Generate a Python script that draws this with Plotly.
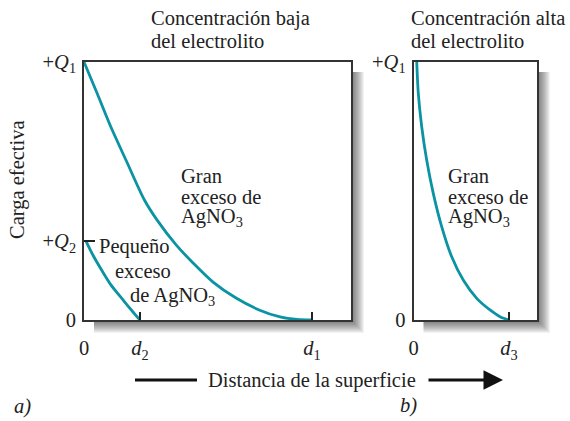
import plotly.graph_objects as go

W, H = 570, 421

# ---- data (x in units of d1 / d3, y in units of Q1) ----
d1 = 1.0
d2 = 0.245
d3 = 1.0
Q1 = 1.0
Q2 = 0.306

gran_a_x = [0.0, 0.057, 0.118, 0.184, 0.265, 0.320, 0.404, 0.474, 0.566, 0.667, 0.768, 0.860, 0.934, 1.0]
gran_a_y = [1.0, 0.880, 0.748, 0.620, 0.465, 0.388, 0.291, 0.225, 0.147, 0.085, 0.039, 0.012, 0.002, 0.0]

peq_x = [0.009, 0.039, 0.077, 0.118, 0.171, 0.215, 0.245]
peq_y = [0.306, 0.252, 0.194, 0.136, 0.078, 0.031, 0.0]

gran_b_x = [0.034, 0.050, 0.086, 0.138, 0.207, 0.295, 0.400, 0.521, 0.662, 0.801, 0.906, 1.0]
gran_b_y = [1.0, 0.879, 0.749, 0.620, 0.491, 0.362, 0.245, 0.155, 0.084, 0.039, 0.013, 0.0]

xa_ticks = [0, d2, d1]
xa_text = ["0", "<i>d</i><sub>2</sub>", "<i>d</i><sub>1</sub>"]
ya_ticks = [0, Q2, Q1]
ya_text = ["0", "+<i>Q</i><sub>2</sub>", "+<i>Q</i><sub>1</sub>"]
xb_ticks = [0, d3]
xb_text = ["0", "<i>d</i><sub>3</sub>"]
yb_ticks = [0, Q1]
yb_text = ["0", "+<i>Q</i><sub>1</sub>"]

TEAL = "#0a93a3"
FONT = "Liberation Serif"
FS = 20.5

def px(x):
    return x / W

def py(y):
    return 1 - y / H

# panel boxes in pixels
A = dict(l=84, r=351, t=62, b=320)
B = dict(l=413.5, r=537, t=62, b=320)

fig = go.Figure()
line_style = dict(color=TEAL, width=2.8, shape="spline", smoothing=0.8)
fig.add_trace(go.Scatter(x=gran_a_x, y=gran_a_y, mode="lines", line=line_style,
                         xaxis="x", yaxis="y", showlegend=False, hoverinfo="skip"))
fig.add_trace(go.Scatter(x=peq_x, y=peq_y, mode="lines", line=line_style,
                         xaxis="x", yaxis="y", showlegend=False, hoverinfo="skip"))
fig.add_trace(go.Scatter(x=gran_b_x, y=gran_b_y, mode="lines", line=line_style,
                         xaxis="x2", yaxis="y2", showlegend=False, hoverinfo="skip"))

ax_common = dict(showgrid=False, zeroline=False, showline=True, linecolor="#333", linewidth=1.6,
                 mirror=True, ticks="inside", tickcolor="#222", tickwidth=1.6, automargin=False,
                 tickfont=dict(family=FONT, size=FS, color="#222"), fixedrange=True)

fig.update_layout(
    width=W, height=H, margin=dict(l=0, r=0, t=0, b=0, pad=0, autoexpand=False),
    paper_bgcolor="white", plot_bgcolor="rgba(0,0,0,0)",
    xaxis=dict(domain=[px(A["l"]), px(A["r"])], range=[0, 1.171], tickvals=xa_ticks, ticktext=xa_text,
               ticklen=8, ticklabelstandoff=9, anchor="y", **ax_common),
    yaxis=dict(domain=[py(A["b"]), py(A["t"])], range=[0, 1], tickvals=ya_ticks, ticktext=ya_text,
               ticklen=11, ticklabelstandoff=2, anchor="x", **ax_common),
    xaxis2=dict(domain=[px(B["l"]), px(B["r"])], range=[0, 1.293], tickvals=xb_ticks, ticktext=xb_text,
                ticklen=8, ticklabelstandoff=9, anchor="y2", **ax_common),
    yaxis2=dict(domain=[py(B["b"]), py(B["t"])], range=[0, 1], tickvals=yb_ticks, ticktext=yb_text,
                ticklen=11, ticklabelstandoff=2, anchor="x2", **ax_common),
)

shapes = []
# soft drop shadows
for box in (A, B):
    n = 13
    for i in range(n, 0, -1):
        shapes.append(dict(type="rect", xref="paper", yref="paper", layer="below",
                           x0=px(box["l"] + 10), x1=px(box["r"] + i),
                           y0=py(box["b"] + i), y1=py(box["t"] + 10),
                           line=dict(width=0), fillcolor="rgba(0,0,0,0.05)"))
    shapes.append(dict(type="rect", xref="paper", yref="paper", layer="below",
                       x0=px(box["l"]), x1=px(box["r"]), y0=py(box["b"]), y1=py(box["t"]),
                       line=dict(width=0), fillcolor="white"))
# left part of the distance arrow
shapes.append(dict(type="line", xref="paper", yref="paper", x0=px(135), x1=px(197), y0=py(380), y1=py(380),
                   line=dict(color="#111", width=3)))
fig.update_layout(shapes=shapes)

def txt(s, x, y, xanchor="left", size=FS, angle=0, italic=False):
    if italic:
        s = "<i>" + s + "</i>"
    fig.add_annotation(text=s, x=px(x), y=py(y), xref="paper", yref="paper", xanchor=xanchor,
                       yanchor="middle", showarrow=False, textangle=angle,
                       font=dict(family=FONT, size=size, color="#222"))

txt("Concentración baja", 149, 18)
txt("del electrolito", 149, 41)
txt("Concentración alta", 409, 18)
txt("del electrolito", 409, 41)
txt("Gran", 179, 176)
txt("exceso de", 179, 197)
txt("AgNO<sub>3</sub>", 179, 218)
txt("Gran", 446, 176)
txt("exceso de", 446, 197)
txt("AgNO<sub>3</sub>", 446, 218)
txt("Pequeño", 97, 247)
txt("exceso", 113, 271)
txt("de AgNO<sub>3</sub>", 128, 296)
txt("Carga efectiva", 17, 180, xanchor="center", angle=-90)
txt("Distancia de la superficie", 312, 380, xanchor="center")
txt("a)", 12, 406, italic=True)
txt("b)", 398, 405, italic=True)

fig.add_annotation(text="", x=px(503), y=py(380), xref="paper", yref="paper", ax=-76, ay=0,
                   showarrow=True, arrowhead=2, arrowsize=1.3, arrowwidth=3, arrowcolor="#111", standoff=0)

fig.write_html("out.html", config={"displayModeBar": False},
               post_script="document.body.style.margin='0px';document.body.style.overflow='hidden';")
